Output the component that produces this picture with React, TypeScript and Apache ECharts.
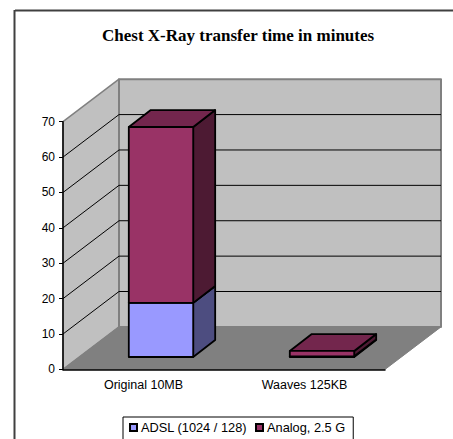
import React, { useEffect, useRef } from "react";
import * as echarts from "echarts";

const titleText = "Chest X-Ray transfer time in minutes";
const categories = ["Original 10MB", "Waaves 125KB"];
const adslName = "ADSL (1024 / 128)";
const analogName = "Analog, 2.5 G";
const adslValues = [15.3, 0.2];
const analogValues = [49.7, 1.5];
const gridValues = [0, 10, 20, 30, 40, 50, 60];

const DEPTH_X = 56;
const DEPTH_Y = -42.5;
const BAR_FRONT_X = 0.3125;
const BAR_BACK_X = 0.705;
const BAR_FRONT_Y = 0.292;
const BAR_BACK_Y = 0.69;
const BAR_WIDTH_RATIO = 0.4;
const EDGE = 1.8;

const poly = (points: number[][], fill: string, stroke: string, lineWidth: number) => ({
  type: "polygon",
  shape: { points },
  style: { fill, stroke, lineWidth, lineJoin: "round" },
});

const box = (api: any, cat: number, from: number, to: number, front: string, top: string, side: string) => {
  const w = api.size([1, 0])[0] * BAR_WIDTH_RATIO;
  const a = api.coord([cat, from]);
  const b = api.coord([cat, to]);
  const fx = DEPTH_X * BAR_FRONT_X;
  const fy = DEPTH_Y * BAR_FRONT_Y;
  const bx = DEPTH_X * BAR_BACK_X;
  const by = DEPTH_Y * BAR_BACK_Y;
  const x0 = a[0] - w / 2 + fx;
  const x1 = a[0] + w / 2 + fx;
  const y0 = a[1] + fy;
  const y1 = b[1] + fy;
  const dx = bx - fx;
  const dy = by - fy;
  return {
    type: "group",
    children: [
      poly([[x1, y0], [x1 + dx, y0 + dy], [x1 + dx, y1 + dy], [x1, y1]], side, "#000", EDGE),
      poly([[x0, y1], [x1, y1], [x1 + dx, y1 + dy], [x0 + dx, y1 + dy]], top, "#000", EDGE),
      poly([[x0, y0], [x1, y0], [x1, y1], [x0, y1]], front, "#000", EDGE),
    ],
  };
};

export default function App() {
  const ref = useRef<HTMLDivElement>(null);
  useEffect(() => {
    const chart = echarts.init(ref.current!, undefined, { renderer: "svg" });
    chart.setOption({
      animation: false,
      backgroundColor: "#fff",
      title: {
        text: titleText,
        left: 102,
        top: 26.5,
        padding: 0,
        textStyle: { fontFamily: "Liberation Serif", fontSize: 17, fontWeight: "bold", color: "#000" },
      },
      legend: {
        left: 123,
        top: 417,
        orient: "horizontal",
        data: [adslName, analogName],
        icon: "rect",
        itemWidth: 7,
        itemHeight: 7,
        itemGap: 8,
        padding: [4, 8, 12, 6],
        borderColor: "#000",
        borderWidth: 1,
        backgroundColor: "#fff",
        selectedMode: false,
        textStyle: { fontFamily: "Liberation Sans", fontSize: 12.8, color: "#000", padding: [0, 0, 0, -1] },
      },
      grid: { left: 63, top: 121.7, width: 322, height: 247.7, containLabel: false },
      xAxis: {
        type: "category",
        data: categories,
        z: 10,
        axisLine: { lineStyle: { color: "#000", width: 1.5 } },
        axisTick: { length: 5, lineStyle: { color: "#000" } },
        axisLabel: { color: "#000", fontFamily: "Liberation Sans", fontSize: 12.5, margin: 9 },
      },
      yAxis: {
        type: "value",
        min: 0,
        max: 70,
        interval: 10,
        z: 10,
        axisLine: { show: true, lineStyle: { color: "#000", width: 1.5 } },
        axisTick: { show: true, length: 4, lineStyle: { color: "#000" } },
        axisLabel: { color: "#000", fontFamily: "Liberation Sans", fontSize: 12, margin: 8 },
        splitLine: { show: false },
      },
      graphic: [
        { type: "line", shape: { x1: 15, y1: 10.5, x2: 453, y2: 10.5 }, style: { stroke: "#404040", lineWidth: 2 } },
        { type: "line", shape: { x1: 14.5, y1: 10, x2: 14.5, y2: 439 }, style: { stroke: "#404040", lineWidth: 2 } },
      ],
      series: [
        {
          type: "custom",
          name: "walls",
          silent: true,
          clip: false,
          z: 1,
          data: [[0]],
          renderItem: (params: any, api: any) => {
            const c = params.coordSys;
            const l = c.x;
            const r = c.x + c.width;
            const t = c.y;
            const b = c.y + c.height;
            const children: any[] = [
              poly([[l, t], [l + DEPTH_X, t + DEPTH_Y], [l + DEPTH_X, b + DEPTH_Y], [l, b]], "#C0C0C0", "#808080", 1.5),
              poly([[l + DEPTH_X, t + DEPTH_Y], [r + DEPTH_X, t + DEPTH_Y], [r + DEPTH_X, b + DEPTH_Y], [l + DEPTH_X, b + DEPTH_Y]], "#C0C0C0", "#808080", 2),
              poly([[l, b], [r, b], [r + DEPTH_X, b + DEPTH_Y], [l + DEPTH_X, b + DEPTH_Y]], "#808080", "#808080", 1),
            ];
            gridValues.forEach((v) => {
              if (v === 0) return;
              const y = api.coord([0, v])[1];
              children.push({
                type: "polyline",
                shape: { points: [[l, y], [l + DEPTH_X, y + DEPTH_Y], [r + DEPTH_X, y + DEPTH_Y]] },
                style: { fill: "none", stroke: "#000", lineWidth: 1 },
              });
            });
            return { type: "group", children };
          },
        },
        {
          type: "custom",
          name: adslName,
          clip: false,
          z: 3,
          itemStyle: { color: "#9999FF", borderColor: "#000", borderWidth: 1.5 },
          data: categories.map((_, i) => [i, 0, adslValues[i]]),
          renderItem: (_p: any, api: any) =>
            box(api, api.value(0), api.value(1), api.value(2), "#9999FF", "#7373BF", "#4D4D80"),
        },
        {
          type: "custom",
          name: analogName,
          clip: false,
          z: 4,
          itemStyle: { color: "#993366", borderColor: "#000", borderWidth: 1.5 },
          data: categories.map((_, i) => [i, adslValues[i], adslValues[i] + analogValues[i]]),
          renderItem: (_p: any, api: any) =>
            box(api, api.value(0), api.value(1), api.value(2), "#993366", "#73264D", "#4D1A33"),
        },
      ],
    });
    return () => chart.dispose();
  }, []);
  return <div ref={ref} style={{ position: "absolute", left: 0, top: 0, width: 453, height: 439 }} />;
}
